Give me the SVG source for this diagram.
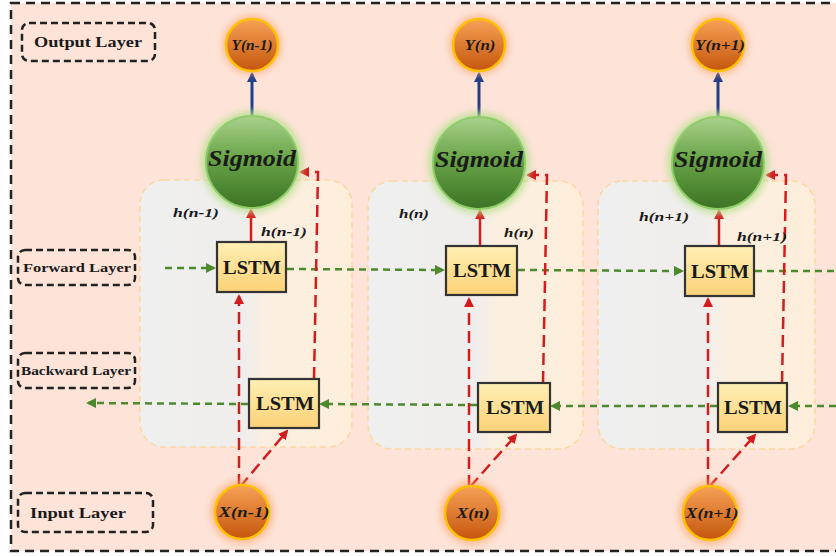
<svg xmlns="http://www.w3.org/2000/svg" width="836" height="556" viewBox="0 0 836 556">
<style>
.lbl{fill:none;stroke:#222;stroke-width:2.5;stroke-dasharray:7 4}
.lt{font-family:"Liberation Serif","Times New Roman","DejaVu Serif",serif;font-weight:bold;fill:#1a1a1a;text-anchor:middle}
.it{font-family:"Liberation Serif","Times New Roman","DejaVu Serif",serif;font-weight:bold;font-style:italic;fill:#1a1a1a;text-anchor:middle}
.panel{stroke:#fcd7a0;stroke-width:1.5;stroke-dasharray:6 4}
.lstm{fill:url(#gL);stroke:#333;stroke-width:2.2}
.io{fill:url(#gO);stroke:#ffc000;stroke-width:2.5}
.sig{fill:url(#gS);stroke:#8fcc6a;stroke-width:2}
.rd{fill:none;stroke:#d41c1c;stroke-width:2.5;stroke-dasharray:12 6}
.rs{fill:none;stroke:#d41c1c;stroke-width:2.5}
.gd{fill:none;stroke:#4d8a2e;stroke-width:2.5;stroke-dasharray:7 5}
.bl{fill:none;stroke:#1f3e8a;stroke-width:3}
</style>
<defs>
<linearGradient id="gO" x1="0" y1="0" x2="0" y2="1"><stop offset="0" stop-color="#f6a257"/><stop offset="1" stop-color="#c4560c"/></linearGradient>
<linearGradient id="gS" x1="0" y1="0" x2="0" y2="1"><stop offset="0" stop-color="#a9d18c"/><stop offset="0.45" stop-color="#6aa548"/><stop offset="1" stop-color="#3b7324"/></linearGradient>
<linearGradient id="gL" x1="0" y1="0" x2="0" y2="1"><stop offset="0" stop-color="#ffeeb4"/><stop offset="1" stop-color="#fcd277"/></linearGradient>
<linearGradient id="gP" x1="0" y1="0" x2="1" y2="0"><stop offset="0" stop-color="#efefef"/><stop offset="0.5" stop-color="#f0eeec"/><stop offset="0.6" stop-color="#fcefe0"/><stop offset="1" stop-color="#fdeedb"/></linearGradient>
<filter id="glow" x="-50%" y="-50%" width="200%" height="200%"><feGaussianBlur stdDeviation="3"/></filter>
<marker id="mr" viewBox="0 0 10 10" refX="8" refY="5" markerWidth="4" markerHeight="4" orient="auto"><path d="M0,0L10,5L0,10z" fill="#d41c1c"/></marker>
<marker id="mg" viewBox="0 0 10 10" refX="8" refY="5" markerWidth="4" markerHeight="4" orient="auto"><path d="M0,0L10,5L0,10z" fill="#4d8a2e"/></marker>
<marker id="mb" viewBox="0 0 10 10" refX="8" refY="5" markerWidth="3.5" markerHeight="3.5" orient="auto"><path d="M0,0L10,5L0,10z" fill="#1f3e8a"/></marker>
</defs>
<rect x="0" y="0" width="836" height="556" fill="#fff"/>
<rect x="11" y="3" width="840" height="548" fill="#fde3d8" stroke="#222" stroke-width="2.5" stroke-dasharray="9 6"/>

<g id="panels">
<rect class="panel" x="140" y="180" width="212" height="267" rx="24" fill="url(#gP)"/>
<rect class="panel" x="368" y="181" width="215" height="268" rx="24" fill="url(#gP)"/>
<rect class="panel" x="598" y="181" width="217" height="268" rx="24" fill="url(#gP)"/>
</g>

<g id="layer-labels">
<g id="output-layer"><rect class="lbl" x="22" y="23" width="133" height="38" rx="7"/><text class="lt" x="88" y="47" font-size="15.5" textLength="108" lengthAdjust="spacingAndGlyphs">Output Layer</text></g>
<g id="forward-layer"><rect class="lbl" x="18" y="250" width="117" height="35" rx="7"/><text class="lt" x="77" y="272" font-size="12.5" textLength="108" lengthAdjust="spacingAndGlyphs">Forward  Layer</text></g>
<g id="backward-layer"><rect class="lbl" x="18" y="353" width="117" height="35" rx="7"/><text class="lt" x="76" y="375" font-size="12" textLength="110" lengthAdjust="spacingAndGlyphs">Backward Layer</text></g>
<g id="input-layer"><rect class="lbl" x="18" y="493" width="135" height="39" rx="7"/><text class="lt" x="78" y="518" font-size="15.5" textLength="96" lengthAdjust="spacingAndGlyphs">Input Layer</text></g>
</g>

<g id="connectors">
<path class="gd" d="M165,268H214" marker-end="url(#mg)"/>
<path class="gd" d="M287,269L443,270" marker-end="url(#mg)"/>
<path class="gd" d="M518,270L682,271" marker-end="url(#mg)"/>
<path class="gd" d="M755,271H836"/>
<path class="gd" d="M836,406H790" marker-end="url(#mg)"/>
<path class="gd" d="M717,406H552" marker-end="url(#mg)"/>
<path class="gd" d="M477,405L321,404" marker-end="url(#mg)"/>
<path class="gd" d="M248,404L88,403" marker-end="url(#mg)"/>
<path class="bl" d="M252,116V74" marker-end="url(#mb)"/>
<path class="bl" d="M479,117V74" marker-end="url(#mb)"/>
<path class="bl" d="M718,117V74" marker-end="url(#mb)"/>
<path class="rs" d="M251,242V210" marker-end="url(#mr)"/>
<path class="rs" d="M480,246V211" marker-end="url(#mr)"/>
<path class="rs" d="M719,246V211" marker-end="url(#mr)"/>
<path class="rd" d="M239,486V296" marker-end="url(#mr)"/>
<path class="rd" d="M469,487V299" marker-end="url(#mr)"/>
<path class="rd" d="M708,487V299" marker-end="url(#mr)"/>
<path class="rd" d="M240,487L287,431" marker-end="url(#mr)"/>
<path class="rd" d="M470,487L516,435" marker-end="url(#mr)"/>
<path class="rd" d="M709,487L755,435" marker-end="url(#mr)"/>
<path class="rd" d="M314,379L318,172H301" marker-end="url(#mr)"/>
<path class="rd" d="M543,383L547,175H528" marker-end="url(#mr)"/>
<path class="rd" d="M782,383L786,175H767" marker-end="url(#mr)"/>
</g>

<g id="h-labels">
<text class="it" x="196" y="217" font-size="13.5" textLength="46" lengthAdjust="spacingAndGlyphs">h(n-1)</text>
<text class="it" x="284" y="236" font-size="13.5" textLength="46" lengthAdjust="spacingAndGlyphs">h(n-1)</text>
<text class="it" x="414" y="218" font-size="13.5" textLength="30" lengthAdjust="spacingAndGlyphs">h(n)</text>
<text class="it" x="519" y="237" font-size="13.5" textLength="30" lengthAdjust="spacingAndGlyphs">h(n)</text>
<text class="it" x="664" y="221" font-size="13.5" textLength="50" lengthAdjust="spacingAndGlyphs">h(n+1)</text>
<text class="it" x="762" y="241" font-size="13.5" textLength="50" lengthAdjust="spacingAndGlyphs">h(n+1)</text>
</g>

<g id="y1"><circle cx="252" cy="45" r="30" fill="#f8a66a" opacity="0.6" filter="url(#glow)"/><circle class="io" cx="252" cy="45" r="26"/><text class="it" x="252" y="50" font-size="14" textLength="41" lengthAdjust="spacingAndGlyphs">Y(n-1)</text></g>
<g id="y2"><circle cx="479" cy="45" r="30" fill="#f8a66a" opacity="0.6" filter="url(#glow)"/><circle class="io" cx="479" cy="45" r="26"/><text class="it" x="480" y="50" font-size="14" textLength="31" lengthAdjust="spacingAndGlyphs">Y(n)</text></g>
<g id="y3"><circle cx="718" cy="45" r="30" fill="#f8a66a" opacity="0.6" filter="url(#glow)"/><circle class="io" cx="718" cy="45" r="26"/><text class="it" x="720" y="50" font-size="14" textLength="50" lengthAdjust="spacingAndGlyphs">Y(n+1)</text></g>

<g id="s1"><circle cx="252" cy="162" r="51" fill="#b8e08f" opacity="0.8" filter="url(#glow)"/><circle class="sig" cx="252" cy="162" r="46"/><text class="it" x="252" y="166" font-size="23" textLength="88" lengthAdjust="spacingAndGlyphs">Sigmoid</text></g>
<g id="s2"><circle cx="479" cy="163" r="51" fill="#b8e08f" opacity="0.8" filter="url(#glow)"/><circle class="sig" cx="479" cy="163" r="46"/><text class="it" x="479" y="167" font-size="23" textLength="88" lengthAdjust="spacingAndGlyphs">Sigmoid</text></g>
<g id="s3"><circle cx="718" cy="163" r="51" fill="#b8e08f" opacity="0.8" filter="url(#glow)"/><circle class="sig" cx="718" cy="163" r="46"/><text class="it" x="718" y="167" font-size="23" textLength="88" lengthAdjust="spacingAndGlyphs">Sigmoid</text></g>

<g id="f1"><rect class="lstm" x="217" y="242" width="69" height="50"/><text class="lt" x="252" y="274" font-size="18" textLength="58" lengthAdjust="spacingAndGlyphs">LSTM</text></g>
<g id="f2"><rect class="lstm" x="446" y="246" width="71" height="49"/><text class="lt" x="482" y="277" font-size="18" textLength="58" lengthAdjust="spacingAndGlyphs">LSTM</text></g>
<g id="f3"><rect class="lstm" x="685" y="246" width="69" height="50"/><text class="lt" x="720" y="278" font-size="18" textLength="58" lengthAdjust="spacingAndGlyphs">LSTM</text></g>

<g id="b1"><rect class="lstm" x="249" y="379" width="70" height="49"/><text class="lt" x="285" y="410" font-size="18" textLength="58" lengthAdjust="spacingAndGlyphs">LSTM</text></g>
<g id="b2"><rect class="lstm" x="478" y="383" width="72" height="49"/><text class="lt" x="515" y="414" font-size="18" textLength="58" lengthAdjust="spacingAndGlyphs">LSTM</text></g>
<g id="b3"><rect class="lstm" x="718" y="383" width="69" height="49"/><text class="lt" x="753" y="414" font-size="18" textLength="58" lengthAdjust="spacingAndGlyphs">LSTM</text></g>

<g id="x1"><circle cx="242" cy="512" r="32" fill="#f8a66a" opacity="0.6" filter="url(#glow)"/><circle class="io" cx="242" cy="512" r="27"/><text class="it" x="244" y="517" font-size="14" textLength="51" lengthAdjust="spacingAndGlyphs">X(n-1)</text></g>
<g id="x2"><circle cx="472" cy="513" r="32" fill="#f8a66a" opacity="0.6" filter="url(#glow)"/><circle class="io" cx="472" cy="513" r="27"/><text class="it" x="473" y="518" font-size="14" textLength="33" lengthAdjust="spacingAndGlyphs">X(n)</text></g>
<g id="x3"><circle cx="710" cy="513" r="32" fill="#f8a66a" opacity="0.6" filter="url(#glow)"/><circle class="io" cx="710" cy="513" r="27"/><text class="it" x="712" y="518" font-size="14" textLength="53" lengthAdjust="spacingAndGlyphs">X(n+1)</text></g>
</svg>
